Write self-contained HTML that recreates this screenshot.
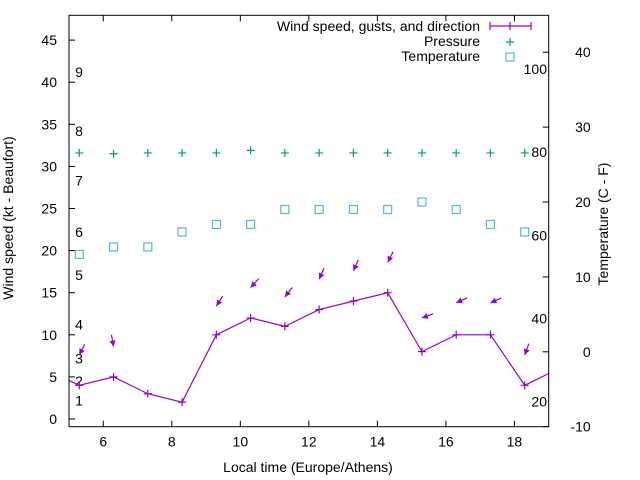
<!DOCTYPE html>
<html><head><meta charset="utf-8"><style>
body{margin:0;background:#fff}
svg{display:block;font-family:"Liberation Sans",Arial,sans-serif;font-size:14px}
</style></head><body>
<svg id="chart" width="640" height="480">
</svg>
<script>
const times=[5.3,6.3,7.3,8.3,9.3,10.3,11.3,12.3,13.3,14.3,15.3,16.3,17.3,18.3];
const windLineTimes=[4.3,5.3,6.3,7.3,8.3,9.3,10.3,11.3,12.3,13.3,14.3,15.3,16.3,17.3,18.3,19.3];
const windLine=[5.9,4,5,3,2,10,12,11,13,14,15,8,10,10,4,6];
const gusts=[7.6,8.6,null,null,13.4,15.6,14.5,16.6,17.6,18.6,12,13.8,13.8,7.6];
const gustDir=[27,350,0,0,32,42,38,24,24,27,70,66,66,20];
const pressure=[1012.6,1012.5,1012.6,1012.6,1012.6,1012.9,1012.6,1012.6,1012.6,1012.6,1012.6,1012.6,1012.6,1012.6];
const temps=[13,14,14,16,17,17,19,19,19,19,20,19,17,16];
const xTicks=[6,8,10,12,14,16,18];
const yTicks=[0,5,10,15,20,25,30,35,40,45];
const tTicks=[-10,0,10,20,30,40];
const beaufortLabels=["1","2","3","4","5","6","7","8","9"];
const beaufortKt=[2.2,4.5,7.2,11.2,17.1,22.2,28.3,34.2,41.2];
const fLabels=[20,40,60,80,100];

const L=69,R=548.7,T=15.3,B=426.7;
const X=t=>L+(t-5)*(R-L)/14;
const Y=v=>419-8.42*v;
const TY=c=>351.8-7.49*c;
const PY=p=>Y(p-981);
const NS="http://www.w3.org/2000/svg";
const svg=document.getElementById('chart');
function el(tag,attrs,parent){const e=document.createElementNS(NS,tag);for(const k in attrs)e.setAttribute(k,attrs[k]);(parent||svg).appendChild(e);return e;}
function txt(s,attrs){const e=el('text',attrs);e.textContent=s;return e;}

// clip
const defs=el('defs',{});
const cp=el('clipPath',{id:'pc'},defs);
el('rect',{x:L,y:T,width:R-L,height:B-T},cp);

// ticks and labels
xTicks.forEach(t=>{
  const a=el('line',{x1:X(t),x2:X(t),y1:B,y2:B-6,stroke:'#000'});
  
  
  el('line',{x1:X(t),x2:X(t),y1:T,y2:T+6,stroke:'#000'});
  const l=txt(String(t),{x:X(t),y:B+20,'text-anchor':'middle'});
  
  
});
yTicks.forEach(v=>{
  const a=el('line',{x1:L,x2:L+6,y1:Y(v),y2:Y(v),stroke:'#000'});
  
  
  const l=txt(String(v),{x:L-12,y:Y(v)+5,'text-anchor':'end'});
  
  
});
tTicks.forEach(c=>{
  const a=el('line',{x1:R,x2:R-6,y1:TY(c),y2:TY(c),stroke:'#000'});
  
  
  const l=txt(String(c),{x:R+42,y:TY(c)+5,'text-anchor':'end'});
  
  
});
beaufortLabels.forEach((s,i)=>{
  const l=txt(s,{x:79,y:Y(beaufortKt[i])+5,'text-anchor':'middle'});
  
  
});
fLabels.forEach(f=>{
  const l=txt(String(f),{x:547,y:TY((f-32)*5/9)+5,'text-anchor':'end'});
  
  
});

const g=el('g',{'clip-path':'url(#pc)'});


const purple='#9400d3',green='#009e73',blue='#56b4e9';
function cross(x,y,col,s,parent){el('path',{d:`M${x-s} ${y}H${x+s}M${x} ${y-s}V${y+s}`,stroke:col,'stroke-width':1.2,fill:'none'},parent);}

// wind line
const wl=el('polyline',{points:windLineTimes.map((t,i)=>X(t)+','+Y(windLine[i])).join(' '),fill:'none',stroke:purple,'stroke-width':1.2},g);


windLineTimes.forEach((t,i)=>cross(X(t),Y(windLine[i]),purple,4,g));

// gust arrows
gusts.forEach((v,i)=>{
  if(v==null)return;
  const d=gustDir[i]*Math.PI/180,len=12;
  const hx=X(times[i]),hy=Y(v);
  const dx=-Math.sin(d),dy=Math.cos(d);
  const tx=hx-dx*len,ty=hy-dy*len;
  const a=el('g',{},g);
  
  
  el('line',{x1:tx,y1:ty,x2:hx,y2:hy,stroke:purple,'stroke-width':1.2},a);
  const px=-dy,py=dx,h=6,w=3;
  el('polygon',{points:`${hx},${hy} ${hx-dx*h+px*w},${hy-dy*h+py*w} ${hx-dx*h-px*w},${hy-dy*h-py*w}`,fill:purple},a);
});

// pressure
pressure.forEach((p,i)=>{
  const m=el('g',{},g);
  
  
  cross(X(times[i]),PY(p),green,4,m);
});
// temperature
temps.forEach((c,i)=>{
  const r=el('rect',{x:X(times[i])-4,y:TY(c)-4,width:8,height:8,fill:'none',stroke:blue,'stroke-width':1.2},g);
  
  
});

// frame
const fr=el('rect',{x:L,y:T,width:R-L,height:B-T,fill:'none',stroke:'#000','stroke-width':1});


</script>
<svg width="640" height="480" style="position:absolute;left:0;top:0">
<text x="13" y="218" transform="rotate(-90 13 218)" text-anchor="middle">Wind speed (kt - Beaufort)</text>
<text x="608" y="224" transform="rotate(-90 608 224)" text-anchor="middle">Temperature (C - F)</text>
<text x="308" y="472" text-anchor="middle">Local time (Europe/Athens)</text>
<g>
<g>
<text x="480" y="31" text-anchor="end">Wind speed, gusts, and direction</text>
<path d="M490 26H531M490 22V30M531 22V30M510 22V30" stroke="#9400d3" stroke-width="1.2" fill="none"/>
</g>
<g>
<text x="480" y="46" text-anchor="end">Pressure</text>
<path d="M506 42H514M510 38V46" stroke="#009e73" stroke-width="1.2"/>
</g>
<g>
<text x="480" y="61" text-anchor="end">Temperature</text>
<rect x="506" y="53" width="8" height="8" fill="none" stroke="#56b4e9" stroke-width="1.2"/>
</g>
</g>
</svg>
</body></html>
